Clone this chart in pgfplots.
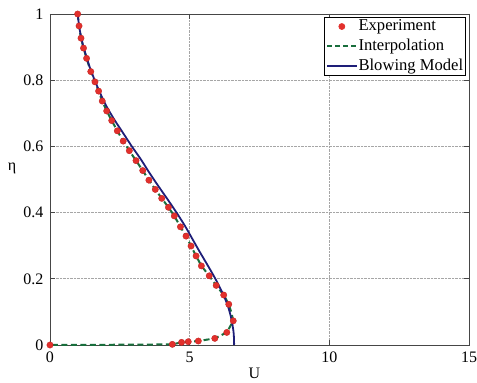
\documentclass[border=0pt]{standalone}
\usepackage{fontspec}
\setmainfont{Liberation Serif}
\usepackage{pgfplots}
\pgfplotsset{compat=1.18}

\definecolor{expred}{RGB}{226,48,44}
\definecolor{expedge}{RGB}{190,30,30}
\definecolor{interpgreen}{RGB}{25,110,60}
\definecolor{modelblue}{RGB}{30,30,120}
\definecolor{framegray}{RGB}{70,70,70}

\pgfplotsset{
  markleg/.style={legend image code/.code={%
    \draw[mark repeat=2,mark phase=2,##1] plot coordinates {(0cm,0cm) (0.52cm,0cm) (1.04cm,0cm)};}},
  lineleg/.style={legend image code/.code={%
    \draw[##1] (0cm,0cm) -- (1.04cm,0cm);}},
}

\begin{document}
\fontsize{16}{19}\selectfont
\begin{tikzpicture}
\useasboundingbox (-50pt,-38pt) rectangle (427pt,345pt);
\begin{axis}[
  scale only axis,
  width=419pt, height=331pt,
  xmin=0, xmax=15, ymin=0, ymax=1,
  xtick={0,5,10,15},
  ytick={0,0.2,0.4,0.6,0.8,1},
  /pgf/number format/assume math mode=true,
  tick label style={font=\fontsize{16}{19}\selectfont},
  label style={font=\fontsize{16}{19}\selectfont},
  xlabel={U}, ylabel={η},
  xlabel style={at={(axis description cs:0.488,0)}, anchor=north, yshift=-17pt},
  ylabel style={at={(axis description cs:0,0.5)}, anchor=south, yshift=38pt, rotate=-90},
  grid=major,
  major grid style={densely dotted, gray!70, line width=0.6pt},
  axis line style={framegray, line width=0.9pt},
  tick style={framegray, line width=0.9pt},
  tick align=inside,
  major tick length=5pt,
  xticklabel style={yshift=-1pt},
  yticklabel style={xshift=-1pt},
  legend style={at={(0.993,0.991)}, anchor=north east, draw=black, line width=0.7pt,
    fill=white, font=\fontsize{16.6}{18}\selectfont, inner sep=1.5pt, row sep=4pt,
    legend cell align=left, nodes={inner sep=1pt}},
  clip=false,
]
% interpolation through the measurements
\addplot[color=interpgreen, line width=2pt, dash pattern=on 6pt off 3.5pt, forget plot] coordinates {
(0.99,1.0) (1.04,0.964) (1.11,0.927) (1.20,0.897) (1.31,0.866) (1.46,0.826)
(1.61,0.795) (1.74,0.767) (1.87,0.737) (2.03,0.707) (2.21,0.678) (2.41,0.647)
(2.62,0.616) (2.84,0.587) (3.08,0.557) (3.32,0.527) (3.54,0.498) (3.77,0.470)
(4.00,0.443) (4.24,0.416) (4.45,0.390) (4.67,0.357) (4.87,0.329) (5.05,0.299)
(5.23,0.269) (5.42,0.239) (5.70,0.209) (5.95,0.180) (6.22,0.151) (6.40,0.123)
(6.50,0.096) (6.56,0.073) (6.33,0.038) (5.90,0.020) (5.31,0.012) (4.95,0.010)
(4.71,0.008) (4.38,0.002) (3.0,0.001) (1.5,0.0005) (0,0)
};
% blowing model
\addplot[color=modelblue, line width=1.8pt, smooth, tension=0.5, forget plot] coordinates {
(0.99,1.0) (1.05,0.96) (1.14,0.92) (1.27,0.88) (1.42,0.84) (1.60,0.80)
(1.80,0.76) (2.03,0.72) (2.31,0.68) (2.62,0.64) (2.93,0.60) (3.26,0.56)
(3.56,0.52) (3.88,0.48) (4.21,0.44) (4.53,0.40) (4.83,0.36) (5.10,0.32)
(5.37,0.28) (5.65,0.24) (5.92,0.20) (6.16,0.16) (6.36,0.12) (6.49,0.08)
(6.57,0.04) (6.59,0.01) (6.59,0)
};
% measurements
\addplot[only marks, mark=*, mark size=3.2pt, color=expred,
  mark options={fill=expred, draw=expedge, line width=0.3pt}, forget plot] coordinates {
(0.99,1.0) (1.04,0.964) (1.11,0.927) (1.20,0.897) (1.31,0.866) (1.46,0.826)
(1.61,0.795) (1.74,0.767) (1.87,0.737) (2.03,0.707) (2.21,0.678) (2.41,0.647)
(2.62,0.616) (2.84,0.587) (3.08,0.557) (3.32,0.527) (3.54,0.498) (3.77,0.470)
(4.00,0.443) (4.24,0.416) (4.45,0.390) (4.67,0.357) (4.87,0.329) (5.05,0.299)
(5.23,0.269) (5.42,0.239) (5.70,0.209) (5.95,0.180) (6.22,0.151) (6.40,0.123)
(6.56,0.073) (6.33,0.038) (5.90,0.020) (5.31,0.012) (4.95,0.010)
(4.71,0.008) (4.38,0.002) (0,0)
};
% legend entries
\addlegendimage{markleg, only marks, mark=*, mark size=3pt, color=expred, mark options={fill=expred}}
\addlegendentry{Experiment}
\addlegendimage{lineleg, color=interpgreen, line width=1.8pt, dash pattern=on 5pt off 3pt}
\addlegendentry{Interpolation}
\addlegendimage{lineleg, color=modelblue, line width=1.8pt}
\addlegendentry{Blowing Model}
\end{axis}
\end{tikzpicture}
\end{document}
